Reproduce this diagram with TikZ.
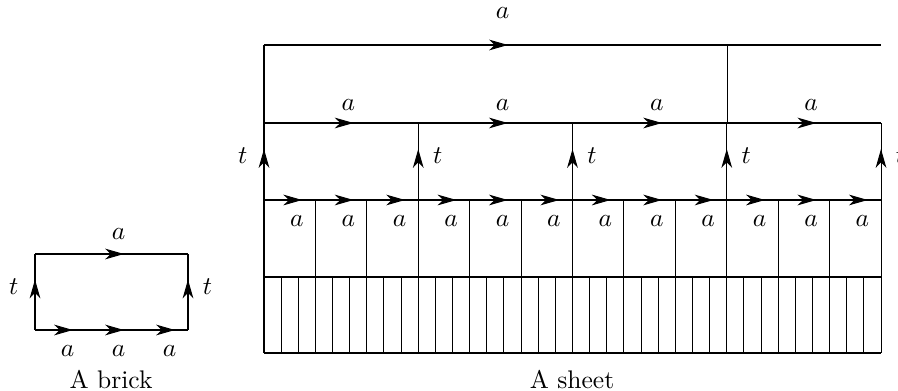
\documentclass[tikz,border=0pt]{standalone}
\usetikzlibrary{arrows.meta,decorations.markings}

\tikzset{
  midarrow/.style={postaction={decorate,decoration={markings,
    mark=at position 0.5 with {\arrow[xshift=4.9pt]{Stealth[length=7.4pt,width=4.2pt,inset=2.2pt]}}}}},
  alabel/.style={xshift=2.8pt},
  tlabel/.style={yshift=2.2pt},
}

\begin{document}
\begin{tikzpicture}[x=0.0138cm, y=-0.0138cm, line width=0.4pt]
\useasboundingbox (0,0) rectangle (898,391);

% the brick
\draw[midarrow] (35,330) -- node[left=3pt, tlabel] (bl) {$t$} (35,254);
\draw[midarrow] (188,330) -- node[right=2.3pt, tlabel] (br) {$t$} (188,254);
\draw[midarrow] (35,254) -- node[above=2pt, alabel] (btop) {$a$} (188,254);
\foreach \i in {0,1,2}
  \draw[midarrow] ({35+51*\i},330) -- node[below=2.5pt, alabel] (bb\i) {$a$} ({86+51*\i},330);
\node (brick) at (111,380) {A brick};

% the sheet
% top row: one large brick
\draw[midarrow] (264,45) -- node[above=7pt, alabel] (stop) {$a$} (727,45);
\draw (727,45) -- (881,45);
\draw (264,45) -- (264,123);
\draw (727,45) -- (727,123);

% second row
\foreach \k in {0,...,3}
  \draw[midarrow] ({264+154.25*\k},123) -- node[above=1.5pt, alabel] (sa\k) {$a$} ({264+154.25*(\k+1)},123);
\draw[midarrow] (264,200) -- node[left=3pt, tlabel] (st0) {$t$} (264,123);
\foreach \k in {1,...,4}
  \draw[midarrow] ({264+154.25*\k},200) -- node[right=2.3pt, tlabel] (st\k) {$t$} ({264+154.25*\k},123);

% third row
\foreach \k in {0,...,11}
  \draw[midarrow] ({264+51.4167*\k},200) -- node[below=2.5pt, alabel] (sb\k) {$a$} ({264+51.4167*(\k+1)},200);
\foreach \k in {0,...,12}
  \draw ({264+51.4167*\k},200) -- ({264+51.4167*\k},277);

% bottom row
\draw (264,277) -- (881,277);
\draw (264,353) -- (881,353);
\foreach \k in {0,...,36}
  \draw ({264+17.1389*\k},277) -- ({264+17.1389*\k},353);

\node (sheet) at (572,380) {A sheet};
\end{tikzpicture}
\end{document}
